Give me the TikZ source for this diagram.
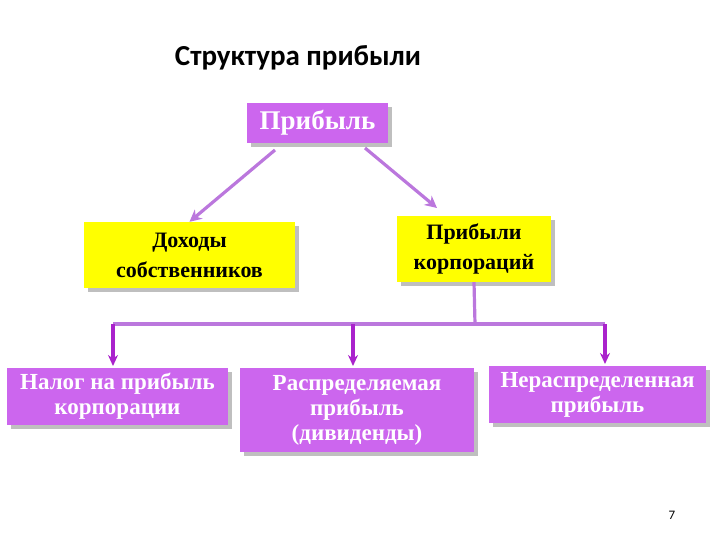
\documentclass[tikz,border=0pt]{standalone}
\usepackage{fontspec}
\setmainfont{Liberation Serif}
\newfontfamily\titlefont{Carlito}
\usetikzlibrary{arrows.meta,shadows}
\definecolor{boxviolet}{HTML}{CC66EE}
\definecolor{boxyellow}{HTML}{FFFF00}
\definecolor{linkviolet}{HTML}{BB77DD}
\definecolor{busviolet}{HTML}{AA22CC}
\tikzset{
    boxshade/.style={drop shadow={shadow xshift=4pt, shadow yshift=-4pt, fill=black!25, opacity=1}},
    violetbox/.style={boxshade, fill=boxviolet, text=white, font=\bfseries\fontsize{23}{25}\selectfont, align=center, inner sep=0pt},
    yellowbox/.style={boxshade, fill=boxyellow, text=black, font=\bfseries\fontsize{22}{30}\selectfont, align=center, inner sep=0pt},
    link/.style={linkviolet, line width=3.2pt, -{Stealth[length=12pt,width=12pt]}},
    bus/.style={busviolet, line width=3.2pt},
    busarrow/.style={bus, -{Stealth[length=11pt,width=10pt]}}
}
\begin{document}
\begin{tikzpicture}[x=1pt,y=-1pt]
    \useasboundingbox (0,0) rectangle (720,540);
    \node[font=\titlefont\bfseries\fontsize{29}{32}\selectfont] (title) at (298,58) {Структура прибыли};
    % top level
    \node[violetbox, minimum width=141pt, minimum height=40pt, font=\bfseries\fontsize{27}{30}\selectfont] (profit) at (317.5,123) {Прибыль};
    % second level
    \node[yellowbox, minimum width=211pt, minimum height=66pt] (owners) at (189.5,255) {Доходы\\собственников};
    \node[yellowbox, minimum width=154pt, minimum height=66pt] (corp) at (474,249) {Прибыли\\корпораций};
    % third level
    \node[violetbox, minimum width=221pt, minimum height=57pt] (tax) at (117.5,396.5) {Налог на прибыль\\корпорации};
    \node[violetbox, minimum width=234pt, minimum height=84pt] (dist) at (357,410) {Распределяемая\\прибыль\\(дивиденды)};
    \node[violetbox, minimum width=217pt, minimum height=57pt] (retained) at (597.5,394.5) {Нераспределенная\\прибыль};
    % connectors
    \coordinate (busleft) at (113,324);
    \coordinate (busmid) at (353,324);
    \coordinate (busright) at (605,324);
    \coordinate (buscorp) at (475,324);
    \draw[link] (275,150) -- (owners.north);
    \draw[link] (365,148) -- (437,208);
    \draw[linkviolet, line width=3.2pt] (corp.south) -- (buscorp);
    \draw[linkviolet, line width=3.2pt] (busleft) -- (busright);
    \draw[busarrow] (busleft) -- (113,366);
    \draw[busarrow] (busmid) -- (353,366);
    \draw[busarrow] (busright) -- (605,364);
    \node[font=\titlefont\fontsize{13}{15}\selectfont] (page) at (672,515) {7};
\end{tikzpicture}
\end{document}
